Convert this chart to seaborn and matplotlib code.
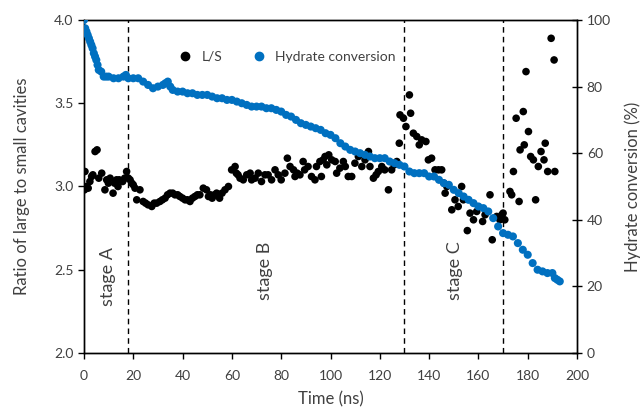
import matplotlib
matplotlib.use("Agg")
import matplotlib.pyplot as plt
import seaborn as sns
import pandas as pd
from matplotlib.lines import Line2D

# ---------------- data ----------------
t_ls = [0.2, 0.4, 1.0, 1.7, 2.4, 3.1, 3.6, 4.5, 5.3, 6.0, 7.2, 8.5, 9.2, 9.9, 10.6,
        11.8, 12.4, 13.2, 13.8, 14.3, 15.7, 16.5, 17.3, 18.0, 18.7, 19.4, 20.0, 20.7,
        21.4, 22.7, 24.0, 25.0, 26.0, 27.5, 28.5, 29.5, 30.8, 31.8, 32.9, 33.9, 34.9,
        36.0, 36.9, 38.0, 38.9, 40.0, 41.0, 42.0, 43.0, 44.0, 45.0, 46.0, 47.0, 48.4,
        49.7, 50.5, 51.3, 52.0, 53.0, 53.8, 55.0, 56.0, 57.2, 58.6, 59.9, 61.3, 61.8,
        62.5, 63.3, 64.6, 66.0, 67.4, 68.0, 69.4, 70.7, 72.0, 73.4, 74.7, 76.1, 77.5,
        78.8, 80.0, 81.5, 82.5, 83.6, 85.0, 85.6, 86.5, 87.6, 88.9, 89.5, 90.9, 92.3,
        93.7, 94.3, 95.7, 96.3, 97.0, 97.8, 98.5, 99.3, 100.5, 101.9, 102.5, 103.8,
        105.2, 106.0, 107.2, 108.6, 109.9, 111.3, 112.7, 114.0, 115.4, 116.0, 117.4,
        118.5, 119.4, 120.8, 122.0, 123.5, 124.8, 125.8, 126.9, 127.9, 128.2, 129.6,
        130.6, 132.0, 132.5, 133.6, 135.0, 136.0, 137.0, 138.7, 139.7, 141.0, 142.4,
        143.8, 145.1, 146.0, 146.5, 147.2, 149.2, 150.5, 151.8, 153.2, 153.9, 155.5,
        156.6, 158.0, 159.3, 161.7, 162.7, 164.7, 165.6, 167.4, 168.7, 169.5, 170.0,
        170.7, 172.8, 173.5, 174.2, 175.3, 176.5, 176.9, 178.2, 178.6, 179.3, 180.3,
        181.2, 182.3, 183.2, 184.3, 185.4, 186.6, 187.1, 188.1, 189.5, 190.7, 191.0]
ls_ratio = [2.98, 3.09, 3.00, 2.99, 3.03, 3.06, 3.07, 3.21, 3.22, 3.05, 3.08, 2.98, 3.04,
            3.02, 3.05, 2.96, 3.02, 3.04, 3.00, 3.04, 3.03, 3.05, 3.09, 3.05, 3.04, 3.02,
            3.01, 2.99, 2.92, 2.98, 2.91, 2.90, 2.89, 2.88, 2.90, 2.90, 2.91, 2.92, 2.93,
            2.95, 2.96, 2.96, 2.95, 2.95, 2.94, 2.93, 2.92, 2.92, 2.91, 2.93, 2.94, 2.95,
            2.95, 2.99, 2.98, 2.94, 2.95, 2.93, 2.95, 2.96, 2.93, 2.96, 2.98, 3.00, 3.10,
            3.12, 3.08, 3.07, 3.05, 3.04, 3.07, 3.08, 3.04, 3.05, 3.08, 3.03, 3.07, 3.07,
            3.04, 3.10, 3.07, 3.04, 3.08, 3.17, 3.12, 3.10, 3.06, 3.08, 3.07, 3.15, 3.10,
            3.12, 3.06, 3.04, 3.12, 3.15, 3.06, 3.16, 3.18, 3.13, 3.19, 3.16, 3.15, 3.08,
            3.11, 3.15, 3.12, 3.06, 3.06, 3.14, 3.18, 3.12, 3.16, 3.21, 3.12, 3.05, 3.07,
            3.09, 3.12, 3.10, 2.98, 3.10, 3.13, 3.15, 3.26, 3.43, 3.41, 3.36, 3.55, 3.44,
            3.32, 3.30, 3.25, 3.28, 3.27, 3.16, 3.17, 3.10, 3.10, 3.10, 3.02, 2.96, 3.00,
            2.86, 2.92, 2.88, 3.00, 2.92, 2.735, 2.84, 2.80, 2.85, 2.79, 2.83, 2.95, 2.68,
            2.82, 2.80, 2.83, 2.84, 2.80, 2.97, 2.95, 3.09, 3.41, 2.91, 3.22, 3.45, 3.25,
            3.69, 3.33, 3.18, 3.16, 2.92, 3.12, 3.21, 3.16, 3.26, 3.09, 3.89, 3.76, 3.09]

t_hc = [0, 0.5, 1, 1.5, 2, 2.5, 3, 3.5, 4, 4.5, 5, 5.5, 6, 7, 8, 9, 10, 12, 14, 16, 17,
        18, 20, 22, 24, 26, 28, 30, 32, 33, 34, 35, 36, 38, 40, 42, 44, 46, 48, 50, 52,
        54, 56, 58, 60, 62, 64, 66, 68, 70, 72, 74, 76, 78, 80, 82, 84, 86, 88, 90, 92,
        94, 96, 98, 100, 102, 104, 106, 108, 110, 112, 114, 116, 118, 120, 122, 124, 126,
        128, 130, 132, 134, 136, 138, 140, 142, 144, 146, 148, 150, 152, 154, 156, 158,
        160, 162, 164, 166, 168, 170, 172, 174, 176, 178, 180, 182, 184, 186, 188, 190,
        191, 192, 193]
hc = [100, 97.5, 96.5, 95.5, 94.5, 93.5, 92.5, 91.5, 90, 89, 88, 86.5, 85, 84.5, 83,
      83, 83, 82.5, 82.5, 83, 83.5, 82.5, 82.5, 82.5, 81.5, 80.5, 79.5, 80, 80.5, 81,
      81.5, 80, 79, 78.5, 78.5, 78, 78, 77.5, 77.5, 77.5, 77, 76.5, 76.5, 76, 76, 75.5,
      75, 74.5, 74, 74, 74, 73.5, 73.5, 73, 72.5, 71.5, 71, 70, 69, 68.5, 68, 67.5, 67,
      66, 65.5, 64.5, 63, 62, 61, 60.5, 60, 59.5, 59, 58.5, 58.5, 58.5, 57.5, 57, 56.5,
      56, 54.5, 54, 54, 54, 53, 53, 52, 51, 50.5, 49, 48, 47, 46, 45, 44, 43.5, 42.5,
      40.5, 38, 36, 35.5, 35, 33, 31, 29.5, 27, 25, 24.5, 24, 24, 22.5, 22, 21.5]

stage_lines = [18, 130, 170]
stage_labels = ["stage A", "stage B", "stage C"]
stage_label_x = [9.7, 73.4, 150.5]
stage_label_y = [2.462, 2.492, 2.492]

x_ticks = list(range(0, 201, 20))
left_ticks = [2.0, 2.5, 3.0, 3.5, 4.0]
right_ticks = [0, 20, 40, 60, 80, 100]

# ---------------- style ----------------
sns.set_theme(style="ticks")
plt.rcParams["font.family"] = ["Lato", "DejaVu Sans"]
plt.rcParams["axes.edgecolor"] = "black"
plt.rcParams["axes.linewidth"] = 1.0

BLUE = "#0070C0"
TXT = "#404040"

fig = plt.figure(figsize=(6.43, 4.13), dpi=100)
ax = fig.add_axes([0.1306, 0.1453, 0.7668, 0.8063])
ax2 = ax.twinx()

df_ls = pd.DataFrame({"t": t_ls, "v": ls_ratio})
df_hc = pd.DataFrame({"t": t_hc, "v": hc})

sns.scatterplot(data=df_ls, x="t", y="v", ax=ax, color="black", s=30,
                edgecolor="none", linewidth=0, zorder=3)
sns.scatterplot(data=df_hc, x="t", y="v", ax=ax2, color=BLUE, s=34,
                edgecolor="none", linewidth=0, zorder=3)

for xv in stage_lines:
    ax.axvline(xv, color="black", lw=1.0, ls=(0, (4, 3)), zorder=1)

for lab, xv, yv in zip(stage_labels, stage_label_x, stage_label_y):
    ax.text(xv, yv, lab, rotation=90, ha="center", va="center",
            fontsize=13, color=TXT)

ax.set_xlim(0, 200)
ax.set_ylim(2.0, 4.0)
ax2.set_ylim(0, 100)
ax.set_xticks(x_ticks)
ax.set_yticks(left_ticks)
ax.set_yticklabels([f"{v:.1f}" for v in left_ticks])
ax2.set_yticks(right_ticks)

ax.set_xlabel("Time (ns)", fontsize=12, color=TXT, labelpad=7)
ax.set_ylabel("Ratio of large to small cavities", fontsize=12, color=TXT, labelpad=17)
ax2.set_ylabel("Hydrate conversion (%)", fontsize=12, color=TXT, labelpad=10)

ax.tick_params(axis="both", direction="out", length=4, width=1, colors="black",
               labelcolor=TXT, labelsize=10)
ax.tick_params(axis="x", pad=8)
ax2.tick_params(axis="y", direction="inout", length=7, width=1, colors="black",
                labelcolor=TXT, labelsize=10)

for sp in ["top", "right", "left", "bottom"]:
    ax.spines[sp].set_visible(True)
    ax.spines[sp].set_color("black")
    ax2.spines[sp].set_visible(True)
    ax2.spines[sp].set_color("black")

handles = [Line2D([], [], marker="o", ls="none", color="black", markersize=6),
           Line2D([], [], marker="o", ls="none", color=BLUE, markersize=6)]
ax2.legend(handles, ["L/S", "Hydrate conversion"], loc="center",
           bbox_to_anchor=(0.405, 0.89), ncol=2, frameon=False, fontsize=10,
           handletextpad=0.2, columnspacing=1.6, labelcolor=TXT)

fig.savefig("out.png", dpi=100)
